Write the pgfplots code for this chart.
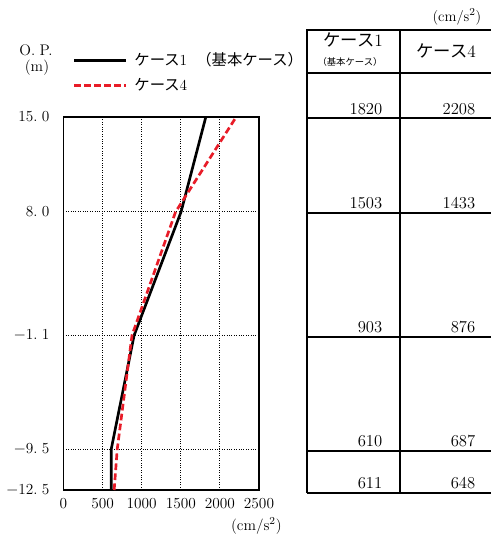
\documentclass[border=0pt]{standalone}
\usepackage{pgfplots}
\pgfplotsset{compat=1.18}
\usepackage{fontspec}
\newfontfamily\jp{Noto Sans CJK JP}
\definecolor{myred}{RGB}{232,28,40}
\newcommand{\gp}{\hspace{0.28em}}
\begin{document}
\begin{tikzpicture}
\path[use as bounding box] (0,0) rectangle (367.5pt,405pt);
\begin{axis}[
  at={(47.625pt,37.5pt)}, anchor=south west,
  scale only axis, width=146.625pt, height=279.75pt,
  xmin=0, xmax=2500, ymin=-12.5, ymax=15,
  xtick={0,500,1000,1500,2000,2500},
  xticklabels={0,500,1000,1500,2000,2500},
  ytick={-12.5,-9.5,-1.1,8,15},
  yticklabels={$-$12.\gp5,$-$9.\gp5,$-$1.\gp1,8.\gp0,15.\gp0},
  grid=major,
  major grid style={black, line width=0.7pt, dash pattern=on 0.7pt off 1.1pt},
  major tick length=0pt,
  axis line style={line width=1.4pt},
  tick label style={font=\fontsize{11.5}{13}\selectfont},
  yticklabel style={xshift=-7pt},
  xticklabel style={yshift=-3pt},
  xlabel={(cm/s$^2$)},
  xlabel style={at={(1,0)}, anchor=center, yshift=-27pt, xshift=-2pt, font=\fontsize{11.5}{13}\selectfont},
  legend style={at={(0,1)}, anchor=south west, xshift=4pt, yshift=14pt, draw=none, fill=none,
    font=\fontsize{11.5}{13}\selectfont, row sep=4pt},
  legend cell align=left,
  legend image code/.code={\draw[#1] (0pt,0pt) -- (39pt,0pt);},
]
\addplot[black, line width=2pt] coordinates {(611,-12.5) (610,-9.5) (903,-1.1) (1503,8) (1820,15)};
\addlegendentry{\hspace{3pt}{\jp ケース}1\hspace{0.6em}{\jp （基本ケース）}}
\addplot[myred, line width=2pt, dash pattern=on 5pt off 2.5pt] coordinates {(648,-12.5) (687,-9.5) (876,-1.1) (1433,8) (2208,15)};
\addlegendentry{\hspace{3pt}{\jp ケース}4}
\end{axis}
\begin{scope}[x=0.75pt, y=0.75pt]
\node[font=\fontsize{11.5}{13}\selectfont] at (36,490) {O.\gp P.};
\node[font=\fontsize{11.5}{13}\selectfont] at (37,472) {(m)};
\foreach \yy in {510,467,422,327,203,89,47} {\draw[line width=1.5pt] (307,\yy) -- (495,\yy);}
\draw[line width=1.5pt] (307,510.5) -- (307,46.5);
\draw[line width=1.5pt] (400,510.5) -- (400,46.5);
\node[anchor=east, font=\fontsize{11}{13}\selectfont] at (486,523) {(cm/s$^2$)};
\node[font=\fontsize{13}{15}\selectfont] at (353,500) {{\jp ケース}1};
\node[font=\jp\fontsize{7}{8}\selectfont] at (350,478) {（基本ケース）};
\node[font=\fontsize{13}{15}\selectfont] at (446,489) {{\jp ケース}4};
\begin{scope}[every node/.style={anchor=base east, font=\fontsize{12.5}{14}\selectfont}]
\node at (387,425) {1820}; \node at (480,425) {2208};
\node at (387,331) {1503}; \node at (480,331) {1433};
\node at (387,207) {903};  \node at (480,207) {876};
\node at (387,93)  {610};  \node at (480,93)  {687};
\node at (387,51)  {611};  \node at (480,51)  {648};
\end{scope}
\end{scope}
\end{tikzpicture}
\end{document}
